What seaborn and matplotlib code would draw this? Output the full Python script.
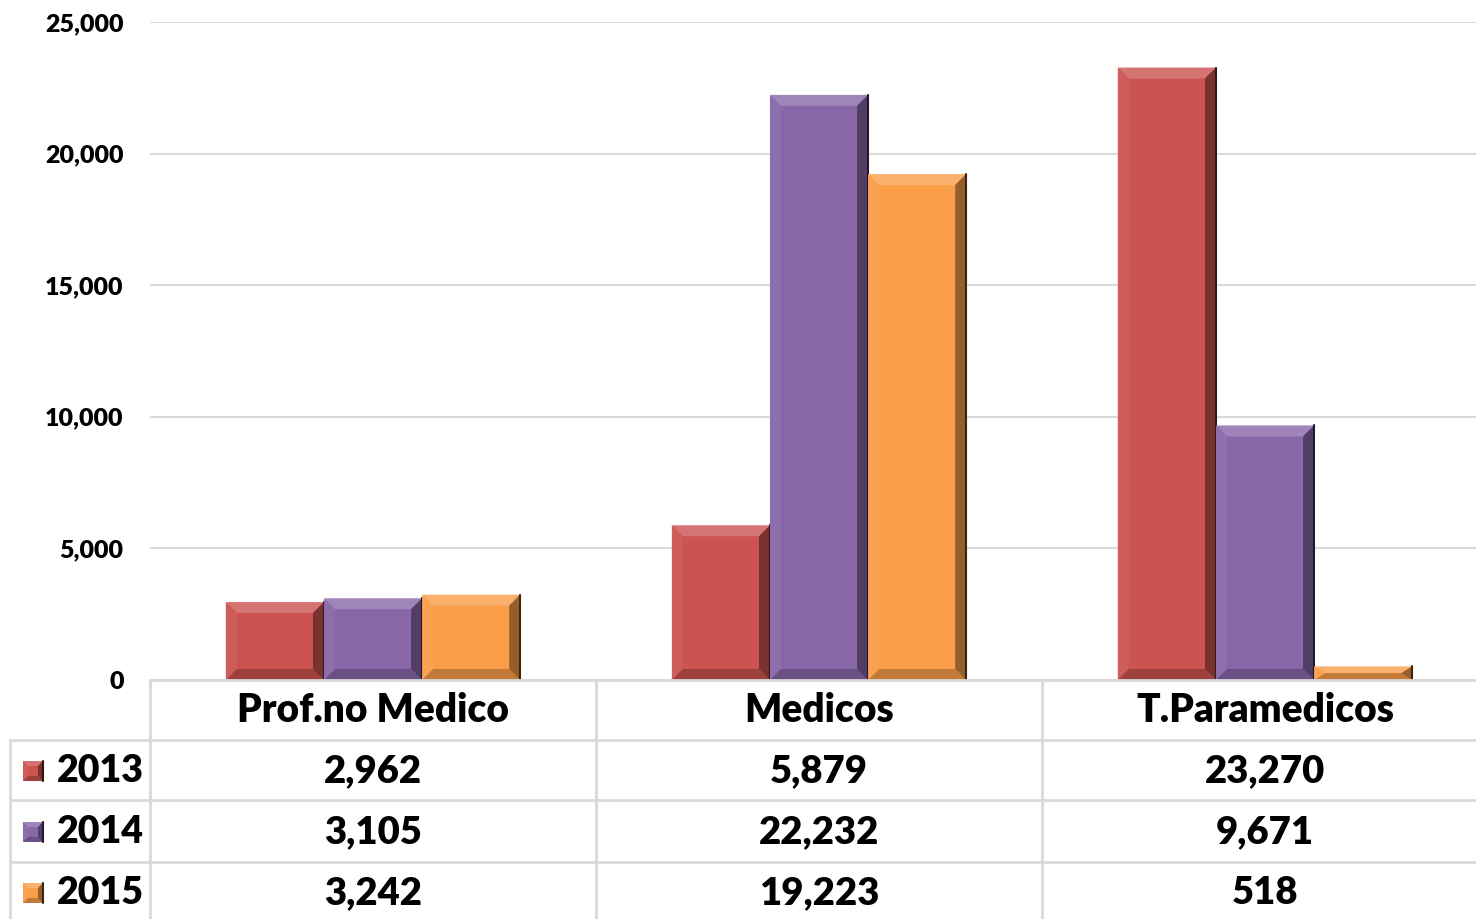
import numpy as np
import pandas as pd
import matplotlib.pyplot as plt
from matplotlib.patches import Polygon, Rectangle
from matplotlib.lines import Line2D
import seaborn as sns

# -------------------------------
# Data
# -------------------------------
categories = ['Prof.no Medico', 'Medicos', 'T.Paramedicos']
years = ['2013', '2014', '2015']
v2013 = [2962, 5879, 23270]
v2014 = [3105, 22232, 9671]
v2015 = [3242, 19223, 518]
colors = ['#CB5350', '#8867A9', '#F99D48']
yticks = [0, 5000, 10000, 15000, 20000, 25000]

series = [v2013, v2014, v2015]
df = pd.DataFrame({
    'cat': categories * 3,
    'year': [y for y in years for _ in categories],
    'val': v2013 + v2014 + v2015,
})

sns.set_theme(style='white')
plt.rcParams['font.family'] = ['Lato', 'DejaVu Sans']
WEIGHT = 'heavy'

W, H = 1476, 919
GRID = '#D9D9D9'


def fx(px):
    return px / W


def fy(py):
    # pixel from top -> figure fraction
    return 1 - py / H


def shade(c, amt):
    c = np.array(plt.matplotlib.colors.to_rgb(c))
    if amt > 0:
        return tuple(c + (1 - c) * amt)
    return tuple(c * (1 + amt))


def bevel(parent, x, y, w, h, bw, bh, color, transform, base=False):
    bh = min(bh, h / 2)
    bw = min(bw, w / 2)
    if base:
        parent.add_artist(Rectangle((x, y), w, h, facecolor=color, edgecolor='none',
                                    transform=transform, zorder=3))
    sides = [
        ([(x, y + h), (x + w, y + h), (x + w - bw, y + h - bh), (x + bw, y + h - bh)], shade(color, 0.2)),
        ([(x, y), (x + bw, y + bh), (x + bw, y + h - bh), (x, y + h)], shade(color, 0.05)),
        ([(x, y), (x + w, y), (x + w - bw, y + bh), (x + bw, y + bh)], shade(color, -0.22)),
        ([(x + w, y), (x + w, y + h), (x + w - bw, y + h - bh), (x + w - bw, y + bh)], shade(color, -0.4)),
    ]
    for pts, col in sides:
        parent.add_artist(Polygon(pts, closed=True, facecolor=col, edgecolor='none',
                                  transform=transform, zorder=3))
    parent.add_artist(Line2D([x + w, x + w], [y, y + h], color=shade(color, -0.75), lw=1.5,
                             transform=transform, zorder=3))


fig = plt.figure(figsize=(W / 100, H / 100), dpi=100)
ax = fig.add_axes([fx(150), fy(680), fx(1338), 658 / H])
sns.barplot(data=df, x='cat', y='val', hue='year', palette=colors, width=0.66,
            gap=0, saturation=1, legend=False, errorbar=None, ax=ax, zorder=2)
ax.set_xlim(-0.5, 2.5)
ax.set_ylim(0, 25000)
ax.set_xlabel('')
ax.set_ylabel('')
ax.set_xticks([])
ax.set_yticks(yticks)
ax.set_yticklabels([f'{t:,}' for t in yticks], fontweight=WEIGHT, color='black')
ax.tick_params(axis='y', length=0, pad=19, labelsize=18)
ax.yaxis.grid(True, color=GRID, lw=1.5)
ax.set_axisbelow(True)
for s in ax.spines.values():
    s.set_visible(False)

# bevel effect on each bar
bw = 11 * 3 / 1338
bh = 11 * 25000 / 658
for p in list(ax.patches):
    bevel(ax, p.get_x(), p.get_y(), p.get_width(), p.get_height(), bw, bh,
          p.get_facecolor(), ax.transData)

# -------------------------------
# Data table below the chart
# -------------------------------
fig.canvas.draw()
inv = fig.transFigure.inverted()


def col_x(d):
    return inv.transform(ax.transData.transform((d, 0)))[0]


bounds = [col_x(b) for b in [-0.5, 0.5, 1.5, 2.5]]
right = min(bounds[-1], 1.0)
row_lines = [680, 740, 800, 862]
row_centers = [711, 771, 832, 893]

fig.add_artist(Line2D([bounds[0], right], [fy(680)] * 2, color=GRID, lw=2))
for ry in row_lines[1:]:
    fig.add_artist(Line2D([fx(10), right], [fy(ry)] * 2, color=GRID, lw=2))
for b in bounds[:-1]:
    fig.add_artist(Line2D([b, b], [fy(680), 0], color=GRID, lw=2))
fig.add_artist(Line2D([fx(10), fx(10)], [fy(740), 0], color=GRID, lw=2))

for i, cat in enumerate(categories):
    cx = (bounds[i] + bounds[i + 1]) / 2
    fig.text(cx, fy(row_centers[0]), cat, ha='center', va='center',
             fontsize=28, fontweight=WEIGHT, color='black')
    for j, vals in enumerate(series):
        fig.text(cx, fy(row_centers[j + 1]), f'{vals[i]:,}', ha='center', va='center',
                 fontsize=27.5, fontweight=WEIGHT, color='black')

for j, yr in enumerate(years):
    cy = row_centers[j + 1]
    bevel(fig, fx(23), fy(cy + 10), fx(20), 20 / H, fx(5), 5 / H, colors[j],
          fig.transFigure, base=True)
    fig.text(fx(57), fy(cy), yr, ha='left', va='center', fontsize=27,
             fontweight=WEIGHT, color='black')

fig.savefig('out.png', dpi=100, facecolor='white')
